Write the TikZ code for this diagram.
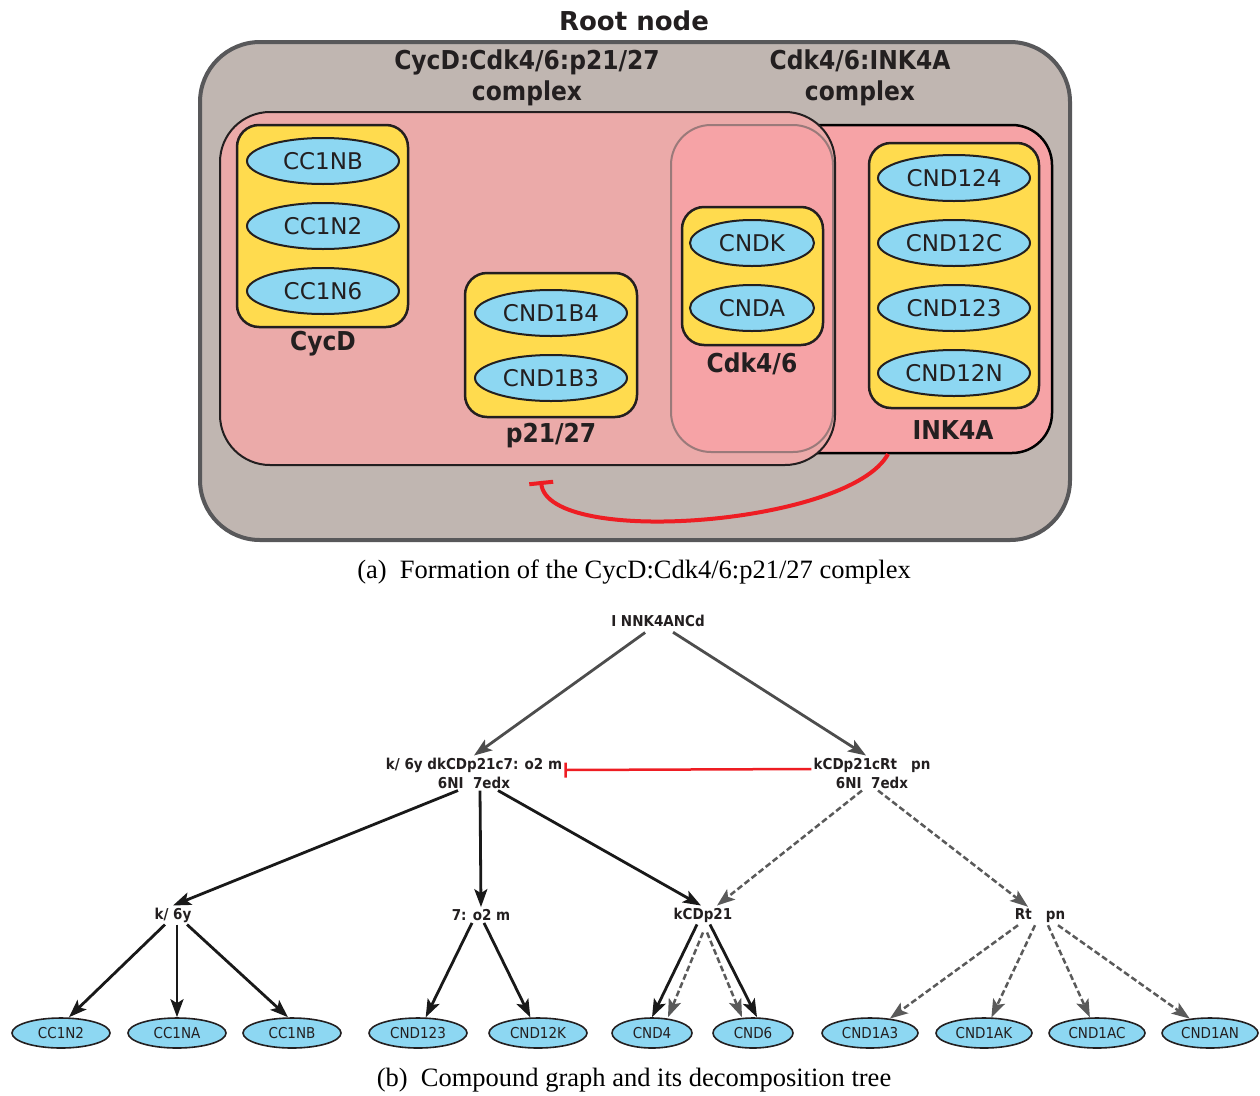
\documentclass[tikz,border=0pt]{standalone}
\usepackage{fontspec}
\setmainfont{Liberation Serif}
\newfontfamily\dv{DejaVu Sans}
\newfontfamily\dvc[FakeStretch=0.9]{DejaVu Sans}
\usetikzlibrary{arrows.meta,shapes.geometric}
\definecolor{rootfill}{HTML}{C0B6B1}
\definecolor{rootline}{HTML}{58585A}
\definecolor{cycfill}{HTML}{EBAAA9}
\definecolor{inkfill}{HTML}{F6A3A6}
\definecolor{cdkline}{HTML}{9A7A7A}
\definecolor{yel}{HTML}{FFDB4E}
\definecolor{blu}{HTML}{8DD7F2}
\definecolor{dk}{HTML}{231F20}
\definecolor{inhred}{HTML}{EE1D23}
\definecolor{gedge}{HTML}{4D4D4D}
\definecolor{dedge}{HTML}{5A5A5A}
\tikzset{
  box/.style={draw=dk, line width=2.5pt, fill=yel, rounded corners=22pt, inner sep=0pt},
  gene/.style={ellipse, draw=dk, line width=2pt, fill=blu, inner sep=0pt, minimum width=152pt, minimum height=46pt,
    font=\dv\fontsize{23}{26}\selectfont, text=dk},
  leaf/.style={ellipse, draw=dk, line width=1.6pt, fill=blu, inner sep=0pt, minimum height=30pt,
    font=\dvc\fontsize{15}{17}\selectfont, text=dk},
  biglab/.style={font=\dvc\bfseries\fontsize{26}{30}\selectfont, text=dk, inner sep=0pt},
  treelab/.style={font=\dvc\bfseries\fontsize{15}{19}\selectfont, text=dk, align=center, inner sep=2pt},
  tip/.style={-{Stealth[length=18pt,width=13pt,inset=4pt]}},
  garrow/.style={tip, draw=gedge, line width=2.8pt},
  sarrow/.style={tip, draw=black!90, line width=2.8pt},
  darrow/.style={tip, draw=dedge, line width=2.5pt, dash pattern=on 6pt off 3pt},
  caption/.style={font=\fontsize{26.5}{30}\selectfont, inner sep=0pt}
}
\begin{document}
\begin{tikzpicture}[x=1pt,y=-1pt]
\useasboundingbox (0,0) rectangle (1260,1095);
% ---------- (a) ----------
\node[biglab, font=\dv\bfseries\fontsize{26}{30}\selectfont] (rootlab) at (634,21) {Root node};
\node[draw=rootline, line width=4pt, fill=rootfill, rounded corners=60pt, minimum width=870pt, minimum height=498pt, inner sep=0pt] (rootbox) at (635,291) {};
\node[biglab, align=center, font=\dvc\bfseries\fontsize{26}{31}\selectfont] (cyclab) at (527,78) {CycD:Cdk4/6:p21/27\\complex};
\node[biglab, align=center, font=\dvc\bfseries\fontsize{26}{31}\selectfont] (inklab) at (860,78) {Cdk4/6:INK4A\\complex};
% Cdk4/6:INK4A complex
\node[draw=black, line width=2.5pt, fill=inkfill, rounded corners=40pt, minimum width=352pt, minimum height=328pt, inner sep=0pt] (inkc) at (876,289) {};
% CycD complex fill
\node[fill=cycfill, rounded corners=50pt, minimum width=615pt, minimum height=353pt, inner sep=0pt] (cycfillbox) at (527.5,288.5) {};
% Cdk4/6 overlap
\node[draw=cdkline, line width=2pt, fill=inkfill, rounded corners=40pt, minimum width=162pt, minimum height=327pt, inner sep=0pt] (cdkc) at (752,288.5) {};
% CycD complex outline
\node[draw=dk, line width=2pt, rounded corners=50pt, minimum width=615pt, minimum height=353pt, inner sep=0pt] (cycc) at (527.5,288.5) {};
% yellow boxes
\node[box, minimum width=171pt, minimum height=202pt] (ycyc) at (322.5,226) {};
\node[box, minimum width=172pt, minimum height=144pt] (yp21) at (551,345) {};
\node[box, minimum width=141pt, minimum height=138pt] (ycdk) at (752.5,276) {};
\node[box, minimum width=170pt, minimum height=265pt] (yink) at (954,275.5) {};
% genes
\node[gene] (g1) at (323,161) {CC1NB};
\node[gene] (g2) at (323,226) {CC1N2};
\node[gene] (g3) at (323,291) {CC1N6};
\node[gene] (g4) at (551,313) {CND1B4};
\node[gene] (g5) at (551,378) {CND1B3};
\node[gene, minimum width=124pt] (g6) at (752,243) {CNDK};
\node[gene, minimum width=124pt] (g7) at (752,308) {CNDA};
\node[gene] (g8) at (954,178) {CND124};
\node[gene] (g9) at (954,243) {CND12C};
\node[gene] (g10) at (954,308) {CND123};
\node[gene] (g11) at (954,373) {CND12N};
% box labels
\node[biglab] (lcyc) at (323,344) {CycD};
\node[biglab] (lp21) at (551,436) {p21/27};
\node[biglab] (lcdk) at (752,364) {Cdk4/6};
\node[biglab] (link) at (953,430) {INK4A};
% inhibition
\coordinate (inhs) at (888,454);
\coordinate (inhe) at (541,481);
\draw[draw=inhred, line width=4pt, -{Bar[width=24pt]}] (inhs) .. controls (850,525) and (548,548) .. (inhe);
\node[caption] (capa) at (634,572) {(a)\ \ Formation of the CycD:Cdk4/6:p21/27 complex};
% ---------- (b) ----------
\node[treelab] (t0) at (658,621) {I NNK4ANCd};
\node[treelab] (ta) at (474,773) {k/ 6y dkCDp21c7: o2 m\\6NI\ \ 7edx};
\node[treelab] (tb) at (872,773) {kCDp21cRt\ \ \ pn\\6NI\ \ 7edx};
\node[treelab] (c1) at (173,915) {k/ 6y};
\node[treelab] (c2) at (481,915) {7: o2 m};
\node[treelab] (c3) at (703,915) {kCDp21};
\node[treelab] (c4) at (1040,916) {Rt\ \ \ pn};
\node[leaf, minimum width=98pt] (l1) at (61,1033) {CC1N2};
\node[leaf, minimum width=98pt] (l2) at (177,1033) {CC1NA};
\node[leaf, minimum width=98pt] (l3) at (292,1033) {CC1NB};
\node[leaf, minimum width=98pt] (l4) at (418,1033) {CND123};
\node[leaf, minimum width=98pt] (l5) at (538,1033) {CND12K};
\node[leaf, minimum width=80pt] (l6) at (652,1033) {CND4};
\node[leaf, minimum width=80pt] (l7) at (753,1033) {CND6};
\node[leaf, minimum width=96pt] (l8) at (870,1033) {CND1A3};
\node[leaf, minimum width=96pt] (l9) at (984,1033) {CND1AK};
\node[leaf, minimum width=96pt] (l10) at (1097,1033) {CND1AC};
\node[leaf, minimum width=96pt] (l11) at (1210,1033) {CND1AN};
% edges
\draw[garrow, shorten <=6pt] ([xshift=-8pt]t0.south) -- (ta.north);
\draw[garrow, shorten <=6pt] ([xshift=10pt]t0.south) -- ([xshift=-6pt]tb.north);
\draw[draw=inhred, line width=2.5pt, -{Bar[width=15pt]}] ([yshift=4pt]tb.west) -- ([yshift=3pt]ta.east);
\draw[sarrow] ([xshift=-16pt]ta.south) -- (c1.north);
\draw[sarrow] ([xshift=6pt]ta.south) -- (c2.north);
\draw[sarrow] ([xshift=24pt]ta.south) -- ([xshift=-2pt]c3.north);
\draw[darrow] ([xshift=-10pt]tb.south) -- ([xshift=14pt]c3.north);
\draw[darrow] ([xshift=6pt]tb.south) -- ([xshift=-12pt]c4.north);
\draw[sarrow] ([xshift=-8pt]c1.south) -- ([xshift=8pt]l1.north);
\draw[sarrow] ([xshift=4pt]c1.south) -- (l2.north);
\draw[sarrow] ([xshift=14pt]c1.south) -- ([xshift=-4pt]l3.north);
\draw[sarrow] ([xshift=-9pt]c2.south) -- (l4);
\draw[sarrow] ([xshift=3pt]c2.south) -- (l5);
\draw[sarrow] ([xshift=-6pt]c3.south) -- (l6.north);
\draw[sarrow] ([xshift=7pt]c3.south) -- ([xshift=4pt]l7.north);
\draw[darrow] ([xshift=0pt,yshift=-8pt]c3.south) -- ([xshift=16pt]l6.north);
\draw[darrow] ([xshift=4pt,yshift=-8pt]c3.south) -- ([xshift=-11pt]l7.north);
\draw[darrow] ([xshift=-22pt]c4.south) -- (l8);
\draw[darrow] ([xshift=-5pt]c4.south) -- (l9);
\draw[darrow] ([xshift=8pt]c4.south) -- (l10);
\draw[darrow] ([xshift=18pt]c4.south) -- (l11);
\node[caption] (capb) at (634,1080) {(b)\ \ Compound graph and its decomposition tree};
\end{tikzpicture}
\end{document}
